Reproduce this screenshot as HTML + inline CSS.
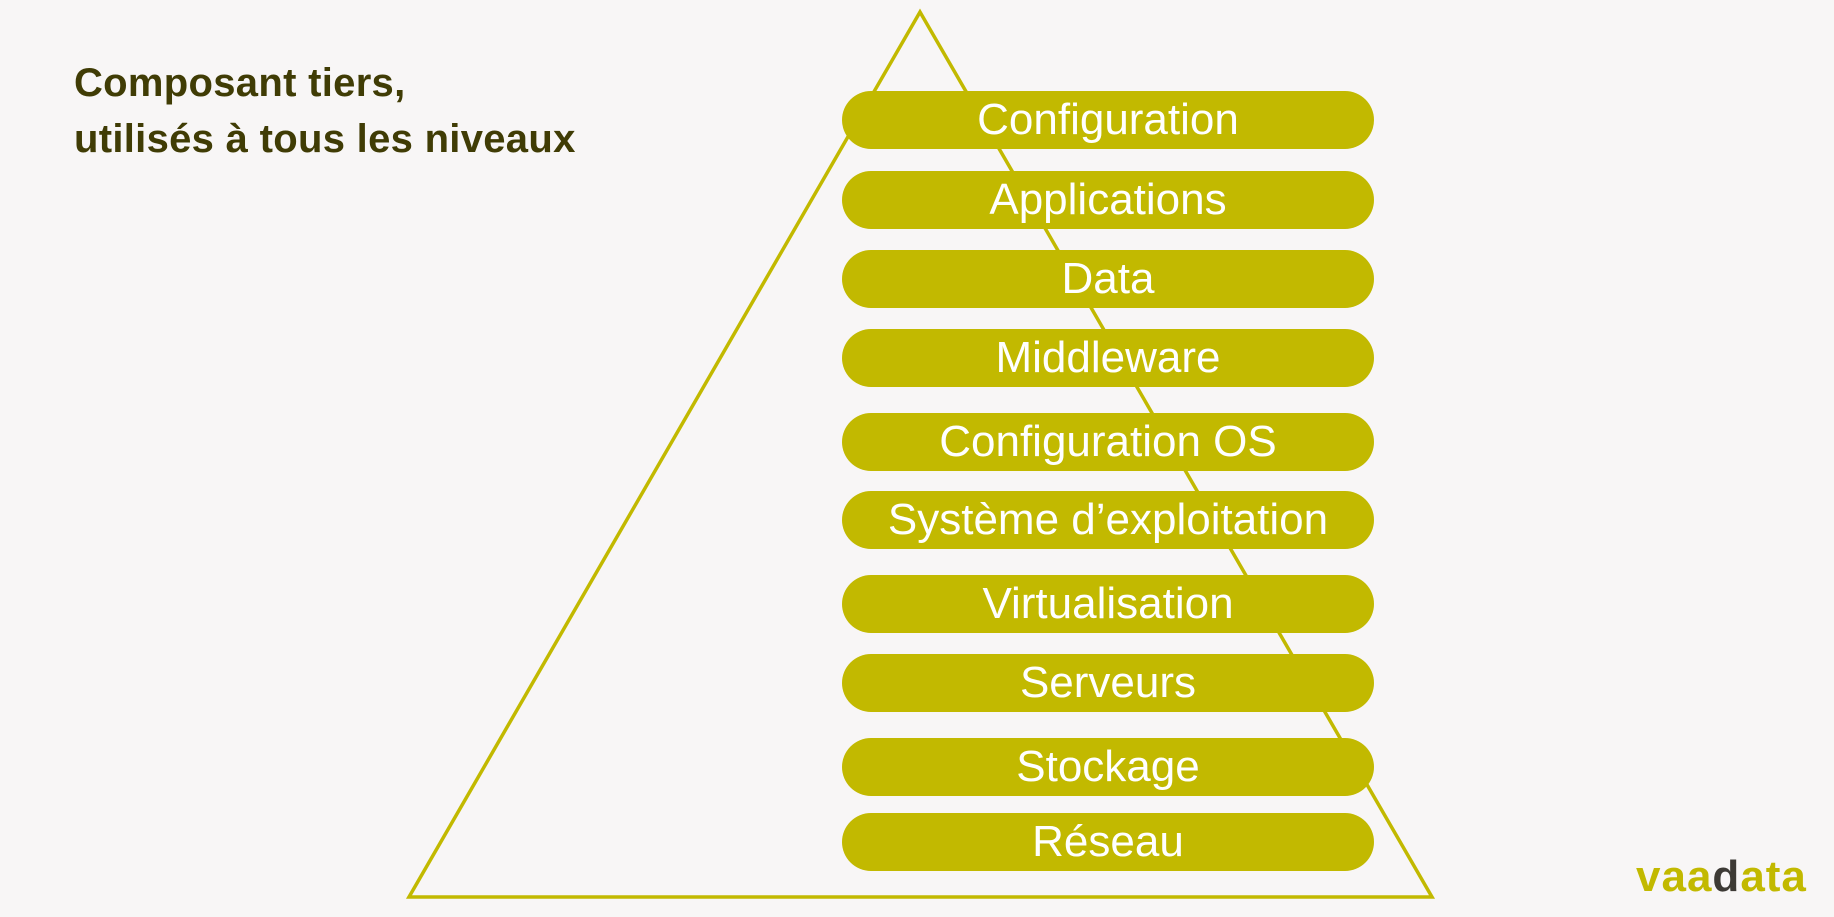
<!DOCTYPE html>
<html><head><meta charset="utf-8"><style>
html,body{margin:0;padding:0}
body{width:1834px;height:917px;background:#f8f6f6;position:relative;overflow:hidden;font-family:"Liberation Sans",sans-serif}
.t{position:absolute;left:74px;color:#403c05;font-weight:bold;font-size:40px;line-height:1;letter-spacing:0.3px}
.p{position:absolute;left:842px;width:532px;height:58px;border-radius:29px;background:#c2b900;color:#fff;font-size:44px;line-height:58px;text-align:center;letter-spacing:0px}
.logo{position:absolute;left:1636px;top:852px;font-size:44px;font-weight:bold;color:#c2b900;letter-spacing:1px}
</style></head><body>
<svg width="1834" height="917" style="position:absolute;left:0;top:0">
<polygon points="920,12 409,897 1432,897" fill="none" stroke="#c2b900" stroke-width="3.5"/>
</svg>
<div class="t" style="top:63px">Composant tiers,</div>
<div class="t" style="top:119px">utilisés à tous les niveaux</div>
<div class="p" style="top:91px">Configuration</div>
<div class="p" style="top:171px">Applications</div>
<div class="p" style="top:250px">Data</div>
<div class="p" style="top:329px">Middleware</div>
<div class="p" style="top:413px">Configuration OS</div>
<div class="p" style="top:491px">Système d’exploitation</div>
<div class="p" style="top:575px">Virtualisation</div>
<div class="p" style="top:654px">Serveurs</div>
<div class="p" style="top:738px">Stockage</div>
<div class="p" style="top:813px">Réseau</div>
<div class="logo">vaa<span style="color:#3d3a35">d</span>ata</div>
</body></html>
